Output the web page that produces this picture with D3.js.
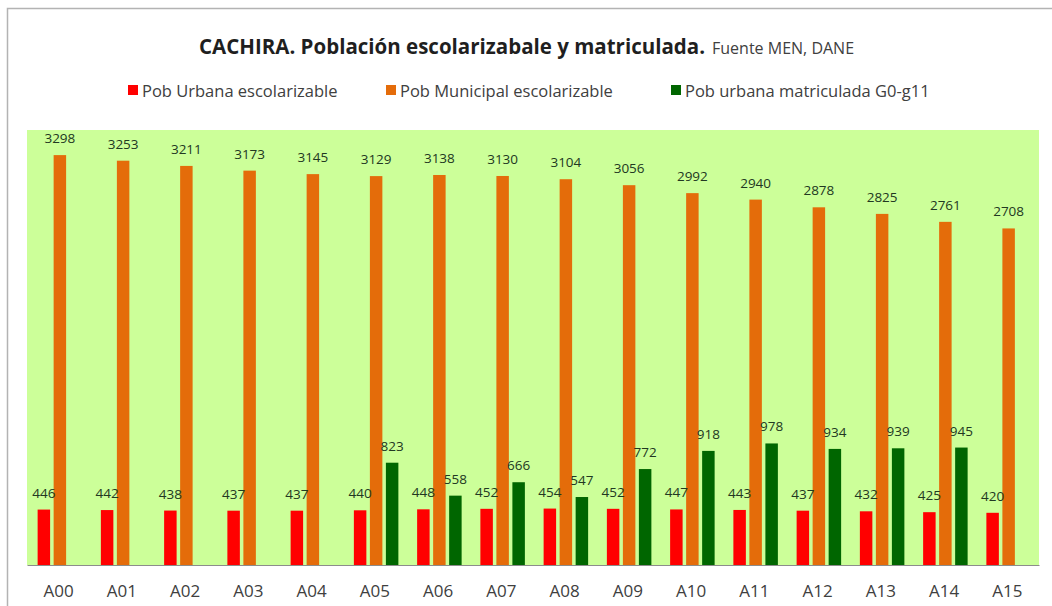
<!DOCTYPE html>
<html>
<head>
<meta charset="utf-8">
<script src="https://cdn.jsdelivr.net/npm/d3@7"></script>
<style>
  html, body { margin: 0; padding: 0; background: #ffffff; }
  svg { display: block; }
</style>
</head>
<body>
<svg id="chart" width="1052" height="606"></svg>
<script>
// ---- data ----
const categories = ["A00","A01","A02","A03","A04","A05","A06","A07","A08","A09","A10","A11","A12","A13","A14","A15"];
const seriesNames = ["Pob Urbana escolarizable","Pob Municipal escolarizable","Pob urbana matriculada G0-g11"];
const urbanaEscolarizable = [446,442,438,437,437,440,448,452,454,452,447,443,437,432,425,420];
const municipalEscolarizable = [3298,3253,3211,3173,3145,3129,3138,3130,3104,3056,2992,2940,2878,2825,2761,2708];
const urbanaMatriculada = [null,null,null,null,null,823,558,666,547,772,918,978,934,939,945,null];
const seriesColors = ["#ff0000","#e46c0a","#006600"];
const yMax = 3500;

const allSeries = [urbanaEscolarizable, municipalEscolarizable, urbanaMatriculada];

const svg = d3.select("#chart");
const plot = {left: 27, right: 1039, top: 130, bottom: 565};

// outer chart border
svg.append("rect")
  .attr("x", 7.5).attr("y", 8.5).attr("width", 1100).attr("height", 700)
  .attr("fill", "#ffffff").attr("stroke", "#b3b3b3").attr("stroke-width", 1.5);

// plot background
svg.append("rect")
  .attr("x", plot.left).attr("y", plot.top)
  .attr("width", plot.right - plot.left).attr("height", plot.bottom - plot.top)
  .attr("fill", "#ccff99");

const x0 = d3.scaleBand().domain(categories).range([plot.left, plot.right]).padding(0);
const bw = x0.bandwidth();
const x1 = d3.scaleBand().domain(seriesNames).range([bw/2 - 21, bw/2 + 23.5]).paddingInner(0.22).paddingOuter(0);
const y = d3.scaleLinear().domain([0, yMax]).range([plot.bottom, plot.top]);

// bars
const rows = [];
categories.forEach((c, i) => {
  seriesNames.forEach((s, j) => {
    const v = allSeries[j][i];
    if (v !== null && v !== undefined) rows.push({cat: c, s, j, v});
  });
});

svg.append("g").selectAll("rect").data(rows).join("rect")
  .attr("x", d => x0(d.cat) + x1(d.s))
  .attr("y", d => y(d.v))
  .attr("width", x1.bandwidth())
  .attr("height", d => y(0) - y(d.v))
  .attr("fill", d => seriesColors[d.j]);

// data labels
svg.append("g").selectAll("text").data(rows).join("text")
  .attr("x", d => x0(d.cat) + x1(d.s) + x1.bandwidth()/2)
  .attr("y", d => y(d.v) - 12)
  .attr("text-anchor", "middle")
  .attr("font-family", "'Open Sans', sans-serif")
  .attr("font-size", 13.5)
  .attr("fill", "#223822")
  .text(d => d.v);

// x axis
const xAxis = d3.axisBottom(x0).tickSize(0).tickPadding(20);
const gx = svg.append("g").attr("transform", `translate(0,${plot.bottom})`).call(xAxis);
gx.select(".domain").attr("stroke", "#8c8c8c").attr("stroke-width", 1);
gx.selectAll("text")
  .attr("font-family", "'Open Sans', sans-serif")
  .attr("font-size", 17)
  .attr("fill", "#404040");

// title
const title = svg.append("text")
  .attr("x", 199).attr("y", 54)
  .attr("font-family", "'Open Sans', sans-serif")
  .attr("fill", "#1f1f1f");
title.append("tspan").attr("font-size", 20.5).attr("font-weight", "bold")
  .text("CACHIRA. Población escolarizabale y matriculada.");
title.append("tspan").attr("font-size", 16).attr("fill", "#404040").attr("dx", 7)
  .text("Fuente MEN, DANE");

// legend
const legendX = [128, 386, 671];
const lg = svg.append("g").selectAll("g").data(seriesNames).join("g")
  .attr("transform", (d, i) => `translate(${legendX[i]},91)`);
lg.append("rect").attr("x", 0).attr("y", -6).attr("width", 10).attr("height", 10)
  .attr("fill", (d, i) => seriesColors[i]);
lg.append("text").attr("x", 14).attr("y", 5.5)
  .attr("font-family", "'Open Sans', sans-serif")
  .attr("font-size", 16.5)
  .attr("fill", "#404040")
  .text(d => d);
</script>
</body>
</html>
